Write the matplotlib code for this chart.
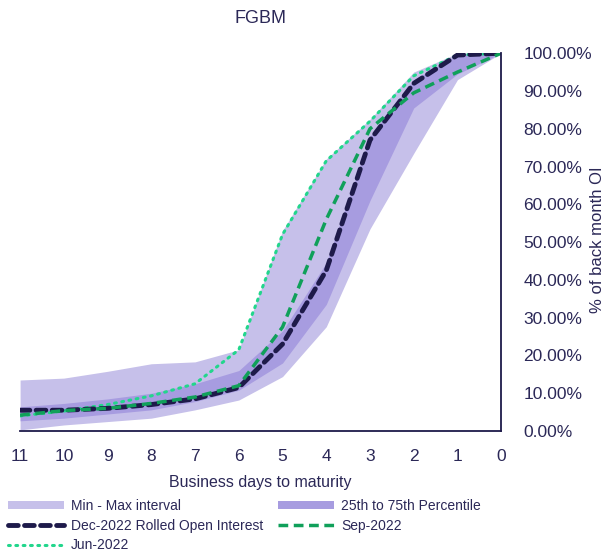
import numpy as np
import matplotlib.pyplot as plt
from matplotlib.patches import Patch
from matplotlib.lines import Line2D

plt.rcParams['font.family'] = ['Liberation Sans', 'DejaVu Sans']

days = [11, 10, 9, 8, 7, 6, 5, 4, 3, 2, 1, 0]
min_vals = [0.3, 1.6, 2.5, 3.4, 5.6, 8.2, 14.4, 27.6, 53.5, 73.5, 93.0, 100.0]
max_vals = [13.5, 14.0, 15.8, 17.8, 18.3, 21.5, 53.0, 72.0, 82.5, 95.0, 100.0, 100.0]
p25_vals = [2.7, 3.4, 4.5, 5.6, 7.8, 10.8, 18.0, 33.5, 61.0, 85.5, 94.5, 100.0]
p75_vals = [6.4, 7.3, 8.5, 10.0, 12.5, 16.0, 26.5, 44.5, 78.0, 93.0, 99.5, 100.0]
dec_2022 = [5.5, 5.5, 6.0, 7.0, 8.5, 11.5, 23.0, 42.5, 77.0, 92.0, 99.5, 100.0]
sep_2022 = [4.2, 5.4, 6.0, 7.3, 9.0, 12.0, 27.5, 56.0, 80.0, 89.5, 95.0, 100.0]
jun_2022 = [4.0, 5.3, 7.0, 9.3, 12.5, 21.5, 52.0, 71.5, 82.0, 94.0, 99.5, 100.0]

text_col = "#2b2857"
light = "#c6c0ea"
mid = "#a79ce0"
dec_col = "#1e1a4a"
sep_col = "#10a05a"
jun_col = "#22d68c"

fig = plt.figure(figsize=(6.09, 5.54), dpi=100)
ax = fig.add_axes([0.033, 0.222, 0.79, 0.682])

x = np.array(days)
ax.fill_between(x, np.array(min_vals) / 100, np.array(max_vals) / 100, color=light, lw=0)
ax.fill_between(x, np.array(p25_vals) / 100, np.array(p75_vals) / 100, color=mid, lw=0)
ax.plot(x, np.array(jun_2022) / 100, color=jun_col, lw=2.2, linestyle=(0, (0.6, 1.8)),
        dash_capstyle="round")
ax.plot(x, np.array(dec_2022) / 100, color=dec_col, lw=3.5, linestyle=(0, (2.0, 1.3)),
        dash_capstyle="round")
ax.plot(x, np.array(sep_2022) / 100, color=sep_col, lw=2.5, linestyle=(0, (2.8, 1.6)))

ax.set_xlim(11, 0)
ax.set_ylim(0, 1)
ax.set_xticks(days)
ax.set_xticklabels([str(d) for d in days])
ax.set_yticks(np.arange(0, 1.01, 0.1))
ax.set_yticklabels([f"{v:.2f}%" for v in np.arange(0, 101, 10)])
ax.yaxis.tick_right()
ax.tick_params(length=0, labelsize=12.5, colors=text_col)
ax.tick_params(axis="x", pad=13)
ax.tick_params(axis="y", pad=16)

for s in ["top", "left"]:
    ax.spines[s].set_visible(False)
for s in ["bottom", "right"]:
    ax.spines[s].set_color(dec_col)
    ax.spines[s].set_linewidth(1.3)

ax.set_title("FGBM", fontsize=13, color=text_col, pad=22)
ax.set_xlabel("Business days to maturity", fontsize=11.5, color=text_col, labelpad=8)
fig.text(598 / 609, 1 - 240 / 554, "% of back month OI", rotation=90, fontsize=12,
         color=text_col, ha="center", va="center")

handles = [
    Patch(facecolor=light, edgecolor="none"),
    Line2D([], [], color=dec_col, lw=3.5, linestyle=(0, (2.0, 1.3)), dash_capstyle="round"),
    Line2D([], [], color=jun_col, lw=2.2, linestyle=(0, (0.6, 1.8)), dash_capstyle="round"),
    Patch(facecolor=mid, edgecolor="none"),
    Line2D([], [], color=sep_col, lw=2.5, linestyle=(0, (2.8, 1.6))),
]
labels = ["Min - Max interval", "Dec-2022 Rolled Open Interest", "Jun-2022",
          "25th to 75th Percentile", "Sep-2022"]
leg = fig.legend(handles, labels, loc="lower left", bbox_to_anchor=(0.0, -0.012), ncol=2,
                 frameon=False, fontsize=10,
                 handlelength=4.0, handleheight=0.55,
                 labelspacing=0.4, columnspacing=1.1, handletextpad=0.5,
                 borderaxespad=0.2)
for t in leg.get_texts():
    t.set_color(text_col)

fig.savefig("out.png", dpi=100)
